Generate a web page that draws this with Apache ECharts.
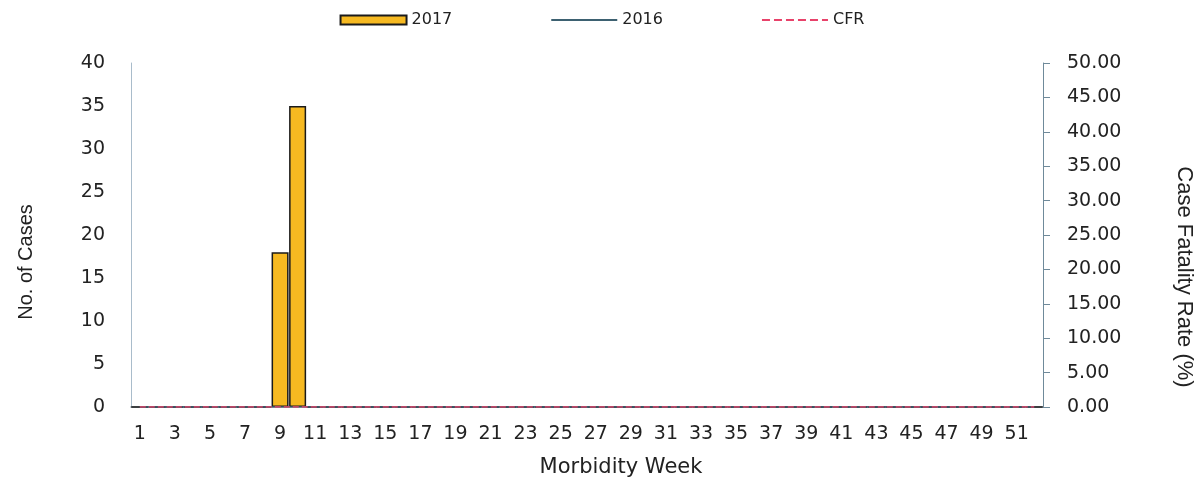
<!DOCTYPE html>
<html>
<head>
<meta charset="utf-8">
<script src="https://cdn.jsdelivr.net/npm/echarts@6/dist/echarts.min.js"></script>
<style>html,body{margin:0;padding:0;background:#fff;}#c{width:1204px;height:478px;}</style>
</head>
<body>
<div id="c"></div>
<script>
const weeks = ['1','2','3','4','5','6','7','8','9','10','11','12','13','14','15','16','17','18','19','20','21','22','23','24','25','26','27','28','29','30','31','32','33','34','35','36','37','38','39','40','41','42','43','44','45','46','47','48','49','50','51','52'];
const cases2017 = [0,0,0,0,0,0,0,0,18,35,0,0,0,0,0,0,0,0,0,0,0,0,0,0,0,0,0,0,0,0,0,0,0,0,0,0,0,0,0,0,0,0,0,0,0,0,0,0,0,0,0,0];
const cases2016 = [0,0,0,0,0,0,0,0,0,0,0,0,0,0,0,0,0,0,0,0,0,0,0,0,0,0,0,0,0,0,0,0,0,0,0,0,0,0,0,0,0,0,0,0,0,0,0,0,0,0,0,0];
const cfr = [0,0,0,0,0,0,0,0,0,0,0,0,0,0,0,0,0,0,0,0,0,0,0,0,0,0,0,0,0,0,0,0,0,0,0,0,0,0,0,0,0,0,0,0,0,0,0,0,0,0,0,0];
const leftTicks = [0, 40, 5];
const rightTicks = [0, 50, 5];

const tickFont = 'DejaVu Sans';
const titleFont = '"Liberation Sans", sans-serif';
const chart = echarts.init(document.getElementById('c'));
chart.setOption({
  animation: false,
  backgroundColor: '#ffffff',
  legend: {
    top: 7,
    left: 'center',
    itemWidth: 66,
    itemHeight: 9,
    itemGap: 98,
    textStyle: {fontFamily: tickFont, fontSize: 16, color: '#222'},
    data: [
      {name: '2017', icon: 'rect'},
      {name: '2016', itemStyle: {opacity: 0}},
      {name: 'CFR', itemStyle: {opacity: 0}}
    ]
  },
  grid: {left: 131, right: 161, top: 63, bottom: 71, containLabel: false, outerBoundsMode: 'none'},
  xAxis: {
    type: 'category',
    data: weeks,
    name: 'Morbidity Week',
    nameLocation: 'middle',
    nameGap: 50,
    nameTextStyle: {fontFamily: tickFont, fontSize: 21, color: '#222', padding: [0, 0, 0, 68]},
    axisLine: {lineStyle: {color: '#8a9aa5', width: 1.5}},
    axisTick: {show: false},
    axisLabel: {interval: 1, fontFamily: tickFont, fontSize: 19, color: '#222', margin: 18}
  },
  yAxis: [
    {
      type: 'value', min: leftTicks[0], max: leftTicks[1], interval: leftTicks[2],
      name: 'No. of Cases', nameLocation: 'middle', nameGap: 95, nameRotate: 90,
      nameTextStyle: {fontFamily: titleFont, fontSize: 20, color: '#222', padding: [0, 54, 0, 0]},
      axisLine: {show: true, lineStyle: {color: '#a9bccb'}},
      axisTick: {show: false},
      splitLine: {show: false},
      axisLabel: {fontFamily: tickFont, fontSize: 19, color: '#222', margin: 26}
    },
    {
      type: 'value', min: rightTicks[0], max: rightTicks[1], interval: rightTicks[2], position: 'right',
      name: 'Case Fatality Rate (%)', nameLocation: 'middle', nameGap: 130, nameRotate: -90,
      nameTextStyle: {fontFamily: titleFont, fontSize: 22, color: '#222', padding: [0, 0, 0, 84]},
      axisLine: {show: true, lineStyle: {color: '#6f8a9a'}},
      axisTick: {show: true, length: 7, lineStyle: {color: '#6f8a9a'}},
      splitLine: {show: false},
      axisLabel: {fontFamily: tickFont, fontSize: 19, color: '#222', margin: 24,
        formatter: v => v.toFixed(2)}
    }
  ],
  series: [
    {
      name: '2017', type: 'bar', data: cases2017, yAxisIndex: 0,
      barCategoryGap: '3%',
      itemStyle: {color: '#f6b921', borderColor: '#1a1a1a', borderWidth: 1.5}
    },
    {
      name: '2016', type: 'line', data: cases2016, yAxisIndex: 0,
      symbol: 'none', lineStyle: {color: '#3d6171', width: 1.5}, itemStyle: {color: '#3d6171'}
    },
    {
      name: 'CFR', type: 'line', data: cfr, yAxisIndex: 1,
      symbol: 'none', lineStyle: {color: '#e8426a', width: 1.5, type: 'dashed'}, itemStyle: {color: '#e8426a'}
    }
  ]
});
</script>
</body>
</html>
